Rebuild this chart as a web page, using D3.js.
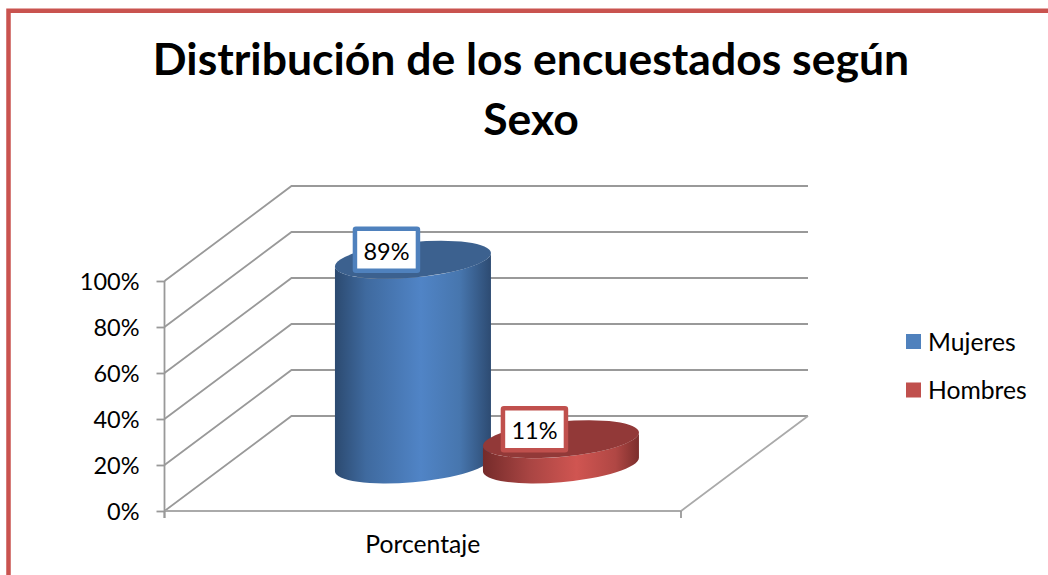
<!DOCTYPE html>
<html>
<head>
<meta charset="utf-8">
<script src="https://cdn.jsdelivr.net/npm/d3@7"></script>
<style>
    body { margin: 0; background: #fff; overflow: hidden; }
    text { font-family: Lato, "Open Sans", sans-serif; fill: #000; }
</style>
</head>
<body>
<div id="chart"></div>
<script>
var titleLines = ["Distribución de los encuestados según", "Sexo"];
var category = ["Porcentaje"];
var series = ["Mujeres", "Hombres"];
var values = [89, 11];
var yTicks = [0, 20, 40, 60, 80, 100];

var width = 1048, height = 575;
var plot = {left: 164.5, right: 681, top: 281, bottom: 511};
var depth = {x: 127, y: -95};
var floorShift = {x: 0.7, y: 1};
var rx = 78.3, ry = 17.7, tilt = -5.2;
var edge = {x: 78, y: 6.75};

var y = d3.scaleLinear().domain([0, 100]).range([plot.bottom, plot.top]);
var x = d3.scalePoint().domain(series).range([plot.left, plot.right]).padding(1.245);
var xCat = d3.scaleBand().domain(category).range([plot.left, plot.right]);

var color = d3.scaleOrdinal().domain(series).range(["#4f81bd", "#c0504d"]);
var topColor = d3.scaleOrdinal().domain(series).range(["#3c618f", "#923938"]);
var shades = {
    Mujeres: ["#2c4a70", "#3f6a9f", "#5084c6", "#4776ae", "#2d4b72"],
    Hombres: ["#752b2a", "#a94543", "#d05551", "#b04744", "#7c2e2c"]
};

var svg = d3.select("#chart").append("svg")
    .attr("width", width)
    .attr("height", height);

var defs = svg.append("defs");
series.forEach(function(s) {
    var g = defs.append("linearGradient").attr("id", "side" + s);
    var offsets = s == "Mujeres" ? [0, 0.2, 0.55, 0.8, 1] : [0, 0.3, 0.6, 0.85, 1];
    shades[s].forEach(function(c, i) {
        g.append("stop").attr("offset", offsets[i]).attr("stop-color", c);
    });
});

// chart frame, only top and left show
svg.append("path")
    .attr("d", "M8.5,575V10.7H1048")
    .attr("fill", "none")
    .attr("stroke", "#c9534f")
    .attr("stroke-width", 4.5)
    .attr("stroke-linejoin", "miter");

svg.append("g").selectAll("text")
    .data(titleLines)
    .enter().append("text")
    .attr("x", 531)
    .attr("y", function(d, i) { return 75 + i * 60; })
    .attr("text-anchor", "middle")
    .attr("font-size", 44.5)
    .attr("font-weight", 700)
    .text(function(d) { return d; });

// walls
var walls = svg.append("g").attr("fill", "none").attr("stroke", "#999").attr("stroke-width", 1.8);

walls.selectAll(".wall")
    .data(yTicks)
    .enter().append("path")
    .attr("class", "wall")
    .attr("d", function(d) {
        return "M" + plot.left + "," + y(d) +
            "L" + (plot.left + depth.x) + "," + (y(d) + depth.y) +
            "H" + (plot.right + depth.x);
    });

walls.append("path")
    .attr("d", "M" + plot.left + "," + y(0) + "H" + plot.right +
        "L" + (plot.right + depth.x) + "," + (y(0) + depth.y))
    .attr("stroke", "#aaa");

// axes
var yAxis = svg.append("g")
    .attr("transform", "translate(" + plot.left + ",0)")
    .call(d3.axisLeft(y).tickValues(yTicks).tickSize(8).tickPadding(17)
        .tickFormat(function(d) { return d + "%"; }));

var xAxis = svg.append("g")
    .attr("transform", "translate(0," + plot.bottom + ")")
    .call(d3.axisBottom(xCat).tickSize(0).tickPadding(24));

yAxis.select(".domain").attr("d", "M0," + y(100) + "V" + (y(0) + 7));
xAxis.select(".domain").attr("d", "M" + plot.left + ",0V7M" + plot.right + ",0V7");

svg.selectAll(".domain, .tick line").attr("stroke", "#999").attr("stroke-width", 1.8);
yAxis.selectAll("text").attr("font-size", 23.5).attr("dy", "0.36em").style("font-family", "Lato");
xAxis.selectAll("text").attr("font-size", 24.7).style("font-family", "Lato");

// cylinders
function cx(s) { return x(s) + depth.x / 2 + floorShift.x; }
function base() { return y(0) + depth.y / 2 + floorShift.y; }
function topY(v) { return y(v) + depth.y / 2 + floorShift.y; }

var bars = svg.append("g").selectAll("g")
    .data(series)
    .enter().append("g");

bars.append("path")
    .attr("fill", function(s) { return "url(#side" + s + ")"; })
    .attr("d", function(s, i) {
        var c = cx(s), t = topY(values[i]), b = base();
        var arc = "A" + rx + "," + ry + " " + tilt + " 1 ";
        return "M" + (c - edge.x) + "," + (t + edge.y) +
            "V" + (b + edge.y) +
            arc + "0 " + (c + edge.x) + "," + (b - edge.y) +
            "V" + (t - edge.y) +
            arc + "1 " + (c - edge.x) + "," + (t + edge.y) + "Z";
    });

bars.append("ellipse")
    .attr("rx", rx)
    .attr("ry", ry)
    .attr("fill", function(s) { return topColor(s); })
    .attr("transform", function(s, i) {
        return "translate(" + cx(s) + "," + topY(values[i]) + ") rotate(" + tilt + ")";
    });

// data labels
var labels = bars.append("g")
    .attr("transform", function(s, i) {
        return "translate(" + (cx(s) - 26.5) + "," + (topY(values[i]) - 10) + ")";
    });

labels.append("rect")
    .attr("x", -31.5).attr("y", -21)
    .attr("width", 63).attr("height", 42)
    .attr("rx", 1)
    .attr("fill", "#fff")
    .attr("stroke", function(s) { return color(s); })
    .attr("stroke-width", 4.5);

labels.append("text")
    .attr("text-anchor", "middle")
    .attr("y", 10)
    .attr("font-size", 23.5)
    .text(function(s, i) { return values[i] + "%"; });

// legend
var legend = svg.append("g").selectAll("g")
    .data(series)
    .enter().append("g")
    .attr("transform", function(d, i) { return "translate(906," + (334 + i * 48.5) + ")"; });

legend.append("rect")
    .attr("width", 15)
    .attr("height", 15)
    .attr("fill", function(s) { return color(s); });

legend.append("text")
    .attr("x", 22)
    .attr("y", 16.5)
    .attr("font-size", 24.7)
    .text(function(s) { return s; });
</script>
</body>
</html>
